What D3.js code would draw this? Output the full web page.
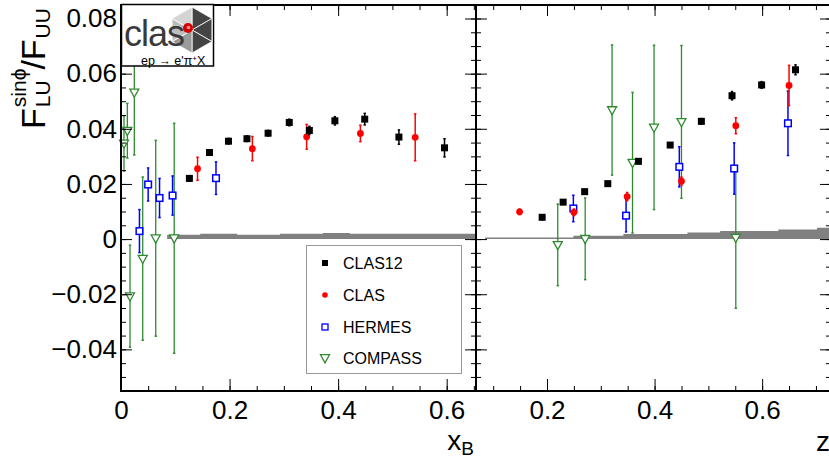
<!DOCTYPE html>
<html>
<head>
<meta charset="utf-8">
<script src="https://cdn.jsdelivr.net/npm/d3@7"></script>
<style>
  body { margin: 0; background: #fff; }
  text { font-family: "Liberation Sans", Arial, sans-serif; }
</style>
</head>
<body>
<div id="chart"></div>
<script>
var w = 829;
var h = 460;
var top0 = 5, bottom0 = 391;
var leftX0 = 121, leftX1 = 476, rightX0 = 476, rightX1 = 831;

// ---- data: left panel (x_B) ----
var xbClas12 = [0.126, 0.163, 0.198, 0.232, 0.271, 0.310, 0.347, 0.394, 0.449, 0.512, 0.596];
var xbClas12Val = [0.0220, 0.0314, 0.0355, 0.0364, 0.0384, 0.0423, 0.0394, 0.0429, 0.0435, 0.0370, 0.0331];
var xbClas12Err = [0.0010, 0.0010, 0.0010, 0.0010, 0.0010, 0.0012, 0.0015, 0.0015, 0.0021, 0.0026, 0.0033];

var xbClas = [0.141, 0.242, 0.342, 0.441, 0.542];
var xbClasVal = [0.0255, 0.0328, 0.0371, 0.0383, 0.0369];
var xbClasErr = [0.0042, 0.0044, 0.0045, 0.0030, 0.0085];

var xbHermes = [0.034, 0.050, 0.071, 0.095, 0.175];
var xbHermesVal = [0.0029, 0.0198, 0.0149, 0.0158, 0.0221];
var xbHermesErr = [0.0078, 0.0060, 0.0071, 0.0071, 0.0059];

var xbCompass = [0.0055, 0.0117, 0.0166, 0.0245, 0.040, 0.064, 0.098];
var xbCompassVal = [0.0347, 0.0393, -0.0207, 0.0532, -0.0071, 0.0003, 0.0003];
var xbCompassErr = [0.0100, 0.0099, 0.0185, 0.0227, 0.0296, 0.0355, 0.0417];

var xbBandEdges = [0.085, 0.146, 0.214, 0.293, 0.372, 0.422, 0.654];
var xbBandVal = [0.0016, 0.0019, 0.0016, 0.0019, 0.0022, 0.0019];

// ---- data: right panel (z) ----
var zClas12 = [0.191, 0.230, 0.270, 0.313, 0.370, 0.429, 0.487, 0.544, 0.599, 0.662];
var zClas12Val = [0.0079, 0.0134, 0.0172, 0.0201, 0.0282, 0.0341, 0.0427, 0.0520, 0.0559, 0.0614];
var zClas12Err = [0.0008, 0.0008, 0.0008, 0.0008, 0.0008, 0.0008, 0.0010, 0.0015, 0.0012, 0.0018];

var zClas = [0.149, 0.250, 0.349, 0.450, 0.551, 0.650];
var zClasVal = [0.0099, 0.0097, 0.0154, 0.0210, 0.0411, 0.0557];
var zClasErr = [0.0010, 0.0012, 0.0015, 0.0015, 0.0029, 0.0073];

var zHermes = [0.249, 0.347, 0.446, 0.548, 0.648];
var zHermesVal = [0.0111, 0.0085, 0.0262, 0.0256, 0.0420];
var zHermesErr = [0.0048, 0.0059, 0.0073, 0.0093, 0.0117];

var zCompass = [0.220, 0.271, 0.321, 0.359, 0.399, 0.450, 0.551];
var zCompassVal = [-0.0021, 0.0001, 0.0468, 0.0277, 0.0405, 0.0425, 0.0005];
var zCompassErr = [0.0148, 0.0148, 0.0236, 0.0255, 0.0298, 0.0277, 0.0256];

var zBandEdges = [0.085, 0.249, 0.342, 0.461, 0.522, 0.630, 0.702, 0.730];
var zBandVal = [0.0006, 0.0012, 0.0018, 0.0024, 0.0029, 0.0035, 0.0041];

// ---- ticks and labels ----
var yTicks = [-0.04, -0.02, 0, 0.02, 0.04, 0.06, 0.08];
var yTickLabels = ["\u22120.04", "\u22120.02", "0", "0.02", "0.04", "0.06", "0.08"];
var xbTicks = [0, 0.2, 0.4, 0.6];
var xbTickLabels = ["0", "0.2", "0.4", "0.6"];
var zTicks = [0.2, 0.4, 0.6];
var zTickLabels = ["0.2", "0.4", "0.6"];

var legendLabels = ["CLAS12", "CLAS", "HERMES", "COMPASS"];
var legendKinds = ["square", "circle", "opensquare", "triangle"];
var colors = { square: "#000000", circle: "#ff0000", opensquare: "#0000ff", triangle: "#2f8a2f" };

var font = '"Liberation Sans", Arial, sans-serif';

function drawBand(svg, xScale, yScale, edges, vals) {
  var pts = edges.map(function(e, i) { return [e, vals[Math.min(i, vals.length - 1)]]; });
  var area = d3.area()
    .curve(d3.curveStepAfter)
    .x(function(d) { return xScale(d[0]); })
    .y0(yScale(0))
    .y1(function(d) { return yScale(d[1]); });
  svg.append("path")
    .datum(pts)
    .attr("fill", "#808080")
    .attr("stroke", "none")
    .attr("d", area);
}

function marker(g, kind, cx, cy) {
  var c = colors[kind];
  if (kind === "square") {
    g.append("rect").attr("x", cx - 3.5).attr("y", cy - 3.5).attr("width", 7).attr("height", 7).attr("fill", c);
  } else if (kind === "circle") {
    g.append("circle").attr("cx", cx).attr("cy", cy).attr("r", 3.4).attr("fill", c);
  } else if (kind === "opensquare") {
    g.append("rect").attr("x", cx - 3.3).attr("y", cy - 3.3).attr("width", 6.6).attr("height", 6.6)
      .attr("fill", "#fff").attr("stroke", c).attr("stroke-width", 1.5);
  } else {
    g.append("path")
      .attr("d", "M" + (cx - 4.5) + "," + (cy - 3.3) + "L" + (cx + 4.5) + "," + (cy - 3.3) + "L" + cx + "," + (cy + 4.8) + "Z")
      .attr("fill", "#fff").attr("stroke", c).attr("stroke-width", 1.3);
  }
}

function drawSeries(svg, xs, vals, errs, xScale, yScale, kind) {
  var c = colors[kind];
  var g = svg.append("g");
  xs.forEach(function(x, i) {
    var cx = xScale(x), lo = yScale(vals[i] - errs[i]), hi = yScale(vals[i] + errs[i]);
    g.append("line").attr("x1", cx).attr("x2", cx).attr("y1", lo).attr("y2", hi)
      .attr("stroke", c).attr("stroke-width", kind === "triangle" ? 1.3 : 1.5);
    g.append("line").attr("x1", cx - 1.2).attr("x2", cx + 1.2).attr("y1", lo).attr("y2", lo)
      .attr("stroke", c).attr("stroke-width", 1.5);
    g.append("line").attr("x1", cx - 1.2).attr("x2", cx + 1.2).attr("y1", hi).attr("y2", hi)
      .attr("stroke", c).attr("stroke-width", 1.5);
  });
  xs.forEach(function(x, i) { marker(g, kind, xScale(x), yScale(vals[i])); });
}

function tickAxis(svg, axis, tx, ty, labelSize) {
  var g = svg.append("g")
    .attr("transform", "translate(" + tx + "," + ty + ")")
    .call(axis);
  g.select(".domain").remove();
  g.selectAll("line").attr("stroke", "#000").attr("stroke-width", 1);
  g.selectAll("text").attr("font-family", font).style("font-size", labelSize + "px").attr("fill", "#000");
  return g;
}

function drawPanelTicks(svg, xScale, yScale, x0, x1, xTicks, xLabels, withYLabels) {
  var xMinor = d3.range(0, 0.8, 0.05).filter(function(v) {
    var p = xScale(v); return p > x0 + 1 && p < x1 - 1;
  });
  var yMinor = d3.range(-0.055, 0.0851, 0.005);

  // bottom
  tickAxis(svg, d3.axisBottom(xScale).tickValues(xMinor).tickSize(-5).tickFormat(""), 0, bottom0, 0);
  tickAxis(svg, d3.axisBottom(xScale).tickValues(xTicks).tickSize(-12).tickPadding(10)
    .tickFormat(function(d, i) { return xLabels[i]; }), 0, bottom0, 26);
  // top
  tickAxis(svg, d3.axisTop(xScale).tickValues(xMinor).tickSize(-5).tickFormat(""), 0, top0, 0);
  tickAxis(svg, d3.axisTop(xScale).tickValues(xTicks).tickSize(-11).tickFormat(""), 0, top0, 0);
  // left side
  tickAxis(svg, d3.axisLeft(yScale).tickValues(yMinor).tickSize(-5).tickFormat(""), x0, 0, 0);
  var yl = d3.axisLeft(yScale).tickValues(yTicks).tickSize(-11).tickPadding(4)
    .tickFormat(withYLabels ? function(d, i) { return yTickLabels[i]; } : "");
  tickAxis(svg, yl, x0, 0, 26);
  // right side
  tickAxis(svg, d3.axisRight(yScale).tickValues(yMinor).tickSize(-5).tickFormat(""), x1, 0, 0);
  tickAxis(svg, d3.axisRight(yScale).tickValues(yTicks).tickSize(-11).tickFormat(""), x1, 0, 0);
}

function drawLogo(svg) {
  var g = svg.append("g");
  g.append("rect").attr("x", 121.5).attr("y", 4.5).attr("width", 92).attr("height", 61.5)
    .attr("fill", "#fff").attr("stroke", "#000").attr("stroke-width", 1.5);
  // hexagon
  var cx = 192, cy = 30, r = 23;
  var verts = d3.range(6).map(function(i) {
    var a = (-90 + 60 * i) * Math.PI / 180;
    return [cx + r * Math.cos(a), cy + r * Math.sin(a)];
  });
  var wedgeFill = ["#444", "#444", "#444", "#9a9a9a", "#bdbdbd", "#d4d4d4"];
  verts.forEach(function(v, i) {
    var n = verts[(i + 1) % 6];
    g.append("path")
      .attr("d", "M" + cx + "," + cy + "L" + v[0] + "," + v[1] + "L" + n[0] + "," + n[1] + "Z")
      .attr("fill", wedgeFill[i]).attr("stroke", "#fff").attr("stroke-width", 0.8);
  });
  g.append("text").attr("x", 124).attr("y", 46).attr("font-family", font)
    .attr("font-size", 36).attr("letter-spacing", -1).attr("fill", "#3a3a3a").text("clas");
  g.append("circle").attr("cx", 188).attr("cy", 28).attr("r", 5).attr("fill", "#d40000");
  g.append("circle").attr("cx", 188.5).attr("cy", 27.5).attr("r", 1.8).attr("fill", "#ff8a8a");
  var t = g.append("text").attr("x", 141).attr("y", 64.5).attr("font-family", font)
    .attr("font-size", 12.5).attr("fill", "#000");
  t.append("tspan").text("ep \u2192 e'\u03c0");
  t.append("tspan").attr("font-size", 8).attr("dy", -4).text("+");
  t.append("tspan").attr("dy", 4).text("X");
}

function drawLegend(svg) {
  svg.append("rect").attr("x", 306.5).attr("y", 245.5).attr("width", 155).attr("height", 128)
    .attr("fill", "#fff").attr("stroke", "#999").attr("stroke-width", 1);
  var ys = [263, 295, 327, 358];
  legendLabels.forEach(function(lab, i) {
    var g = svg.append("g");
    var kind = legendKinds[i];
    if (kind === "square") {
      g.append("rect").attr("x", 322).attr("y", ys[i] - 3).attr("width", 6).attr("height", 6).attr("fill", "#000");
    } else if (kind === "circle") {
      g.append("circle").attr("cx", 325).attr("cy", ys[i]).attr("r", 2.8).attr("fill", "#ff0000");
    } else if (kind === "opensquare") {
      g.append("rect").attr("x", 322).attr("y", ys[i] - 3).attr("width", 6).attr("height", 6)
        .attr("fill", "#fff").attr("stroke", "#0000ff").attr("stroke-width", 1.3);
    } else {
      marker(g, "triangle", 325, ys[i]);
    }
    svg.append("text").attr("x", 343).attr("y", ys[i] + 6).attr("font-family", font)
      .attr("font-size", 16).attr("fill", "#000").text(lab);
  });
}

function drawTitles(svg) {
  // x axis titles
  var tx = svg.append("text").attr("x", 474).attr("y", 450).attr("text-anchor", "end")
    .attr("font-family", font).attr("font-size", 28).attr("fill", "#000");
  tx.append("tspan").text("x");
  tx.append("tspan").attr("font-size", 19).attr("dy", 5).text("B");
  svg.append("text").attr("x", 816).attr("y", 451).attr("font-family", font)
    .attr("font-size", 28).attr("fill", "#000").text("z");

  // y axis title, rotated, built piece by piece
  var g = svg.append("g").attr("transform", "translate(45,129) rotate(-90)");
  var big = 34, small = 21;
  var pos = 0;
  var f1 = g.append("text").attr("x", pos).attr("y", 0).attr("font-family", font).attr("font-size", big).text("F");
  pos += f1.node().getComputedTextLength() + 1;
  var sub1 = g.append("text").attr("x", pos).attr("y", 5).attr("font-family", font).attr("font-size", small).text("LU");
  var sup1 = g.append("text").attr("x", pos).attr("y", -19).attr("font-family", font).attr("font-size", small).text("sin\u03d5");
  pos += Math.max(sub1.node().getComputedTextLength(), sup1.node().getComputedTextLength()) - 1;
  var sl = g.append("text").attr("x", pos).attr("y", 0).attr("font-family", font).attr("font-size", big).text("/F");
  pos += sl.node().getComputedTextLength() + 1;
  g.append("text").attr("x", pos).attr("y", 5).attr("font-family", font).attr("font-size", small).text("UU");
}

function main() {
  var svg = d3.select("#chart").append("svg").attr("width", w).attr("height", h);

  var yScale = d3.scaleLinear().domain([-0.0551, 0.0849]).range([bottom0, top0]);
  var xbScale = d3.scaleLinear().domain([0, 0.654]).range([leftX0, leftX1]);
  var zScale = d3.scaleLinear().domain([0.068, 0.728]).range([rightX0, rightX1]);

  var leftG = svg.append("g");
  var rightG = svg.append("g");

  drawBand(leftG, xbScale, yScale, xbBandEdges, xbBandVal);
  drawBand(rightG, zScale, yScale, zBandEdges, zBandVal);

  drawSeries(leftG, xbCompass, xbCompassVal, xbCompassErr, xbScale, yScale, "triangle");
  drawSeries(leftG, xbHermes, xbHermesVal, xbHermesErr, xbScale, yScale, "opensquare");
  drawSeries(leftG, xbClas, xbClasVal, xbClasErr, xbScale, yScale, "circle");
  drawSeries(leftG, xbClas12, xbClas12Val, xbClas12Err, xbScale, yScale, "square");

  drawSeries(rightG, zCompass, zCompassVal, zCompassErr, zScale, yScale, "triangle");
  drawSeries(rightG, zHermes, zHermesVal, zHermesErr, zScale, yScale, "opensquare");
  drawSeries(rightG, zClas, zClasVal, zClasErr, zScale, yScale, "circle");
  drawSeries(rightG, zClas12, zClas12Val, zClas12Err, zScale, yScale, "square");

  drawPanelTicks(svg, xbScale, yScale, leftX0, leftX1, xbTicks, xbTickLabels, true);
  drawPanelTicks(svg, zScale, yScale, rightX0, rightX1, zTicks, zTickLabels, false);

  // frames
  svg.append("rect").attr("x", leftX0).attr("y", top0).attr("width", leftX1 - leftX0).attr("height", bottom0 - top0)
    .attr("fill", "none").attr("stroke", "#000").attr("stroke-width", 2);
  svg.append("rect").attr("x", rightX0).attr("y", top0).attr("width", rightX1 - rightX0).attr("height", bottom0 - top0)
    .attr("fill", "none").attr("stroke", "#000").attr("stroke-width", 2);

  drawLegend(svg);
  drawLogo(svg);
  drawTitles(svg);
}

window.onload = function() {
  main();
};
</script>
</body>
</html>
